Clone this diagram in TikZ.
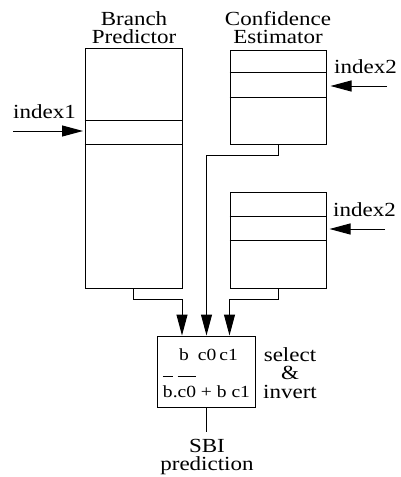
\documentclass[tikz,border=0pt]{standalone}
\usepackage{fontspec}
\setmainfont{Liberation Serif}[FakeStretch=1.15]
\usetikzlibrary{arrows.meta,calc}
\newcommand\barred[1]{\leavevmode\vbox{\hrule height 0.8pt\kern 8.5pt\hbox{#1}}}
\begin{document}
\begin{tikzpicture}[x=1pt,y=-1pt,
  box/.style={draw,line width=1pt,inner sep=0pt},
  rowline/.style={line width=1pt},
  wire/.style={line width=1pt},
  arr/.style={line width=1pt,-{Triangle[length=21pt,width=11pt]}},
  lbl/.style={inner sep=0pt,align=center,font=\fontsize{20}{18}\selectfont},
  muxtxt/.style={inner sep=0pt,font=\fontsize{17}{18}\selectfont}]
\useasboundingbox (0,0) rectangle (401,477);
% boxes
\node[box,minimum width=97pt,minimum height=240pt] (bp) at (133.5,168) {};
\node[box,minimum width=96.5pt,minimum height=94pt] (ce1) at (278.25,97) {};
\node[box,minimum width=96.5pt,minimum height=96pt] (ce2) at (278.25,240) {};
\node[box,minimum width=98pt,minimum height=71pt] (mux) at (206,371.5) {};
% rows
\draw[rowline] (bp.west |- 0,120) -- (bp.east |- 0,120);
\draw[rowline] (bp.west |- 0,144) -- (bp.east |- 0,144);
\draw[rowline] (ce1.west |- 0,72) -- (ce1.east |- 0,72);
\draw[rowline] (ce1.west |- 0,97) -- (ce1.east |- 0,97);
\draw[rowline] (ce2.west |- 0,216) -- (ce2.east |- 0,216);
\draw[rowline] (ce2.west |- 0,240) -- (ce2.east |- 0,240);
% titles
\node[lbl,anchor=north] (bpt) at (134,11) {Branch\\Predictor};
\node[lbl,anchor=north] (cet) at (278,11) {Confidence\\Estimator};
% index inputs
\node[lbl,anchor=base west] (i1t) at (13,118) {index1};
\node[lbl,anchor=base west] (i2t) at (334,73) {index2};
\node[lbl,anchor=base west] (i3t) at (333,216.5) {index2};
\coordinate (i1s) at (13,131);
\coordinate (i2s) at (387,86);
\coordinate (i3s) at (385,229);
\draw[arr,shorten >=1.5pt] (i1s) -- (i1s -| bp.west);
\draw[arr,shorten >=3.5pt] (i2s) -- (i2s -| ce1.east);
\draw[arr,shorten >=2.5pt] (i3s) -- (i3s -| ce2.east);
% connections to mux
\draw[arr] (bp.south) -- ++(0,11) -| ($(mux.north)+(-24,0)$);
\draw[arr] (ce1.south) -- ++(0,11) -| ($(mux.north)+(0.5,0)$);
\draw[arr] (ce2.south) -- ++(0,11) -| ($(mux.north)+(23.5,0)$);
% mux contents
\node[muxtxt,anchor=base] (m1) at (208.5,360) {b\hspace{9pt}c0\hspace{3pt}c1};
\node[muxtxt,anchor=base] (m2) at (206.5,397) {\barred{b}.\barred{c0} + b c1};
\node[lbl,anchor=north,font=\fontsize{20}{18.3}\selectfont] (sel) at (290,347.5) {select\\\&\\invert};
% output
\node[lbl,anchor=north] (sbi) at (207,439) {SBI\\prediction};
\draw[wire,shorten >=7pt] (mux.south) -- (mux.south |- sbi.north);
\end{tikzpicture}
\end{document}
